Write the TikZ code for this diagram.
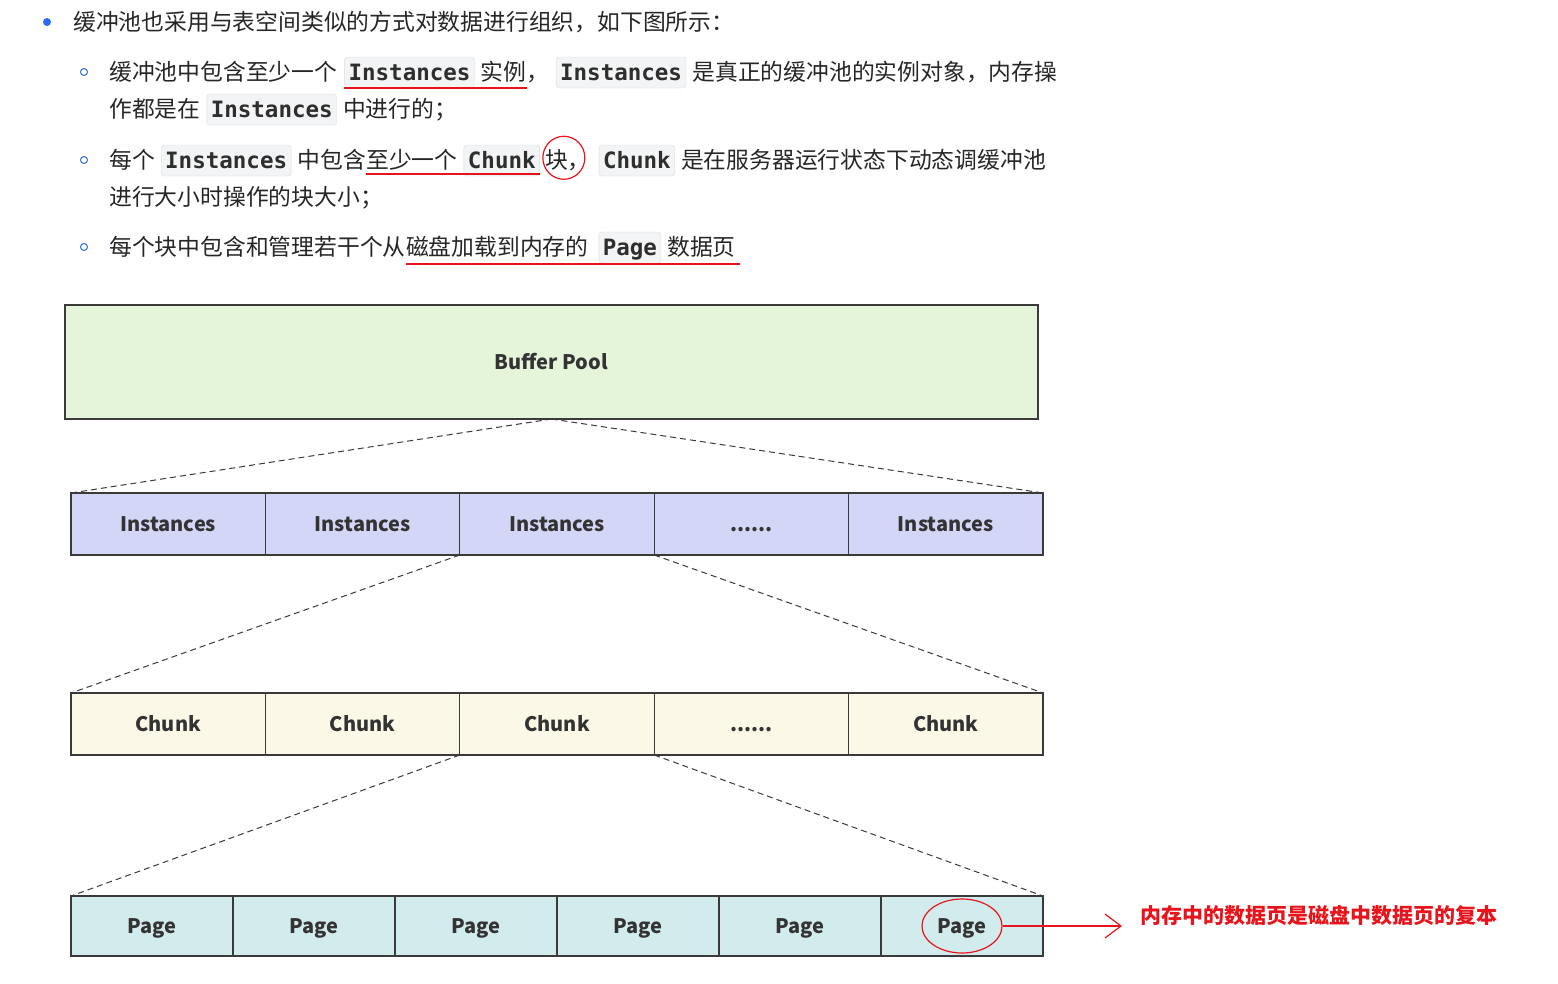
\documentclass[tikz,border=0pt]{standalone}
\usepackage{fontspec}
\usepackage{xcolor}
\usepackage{tikz}
\usetikzlibrary{positioning, shapes.geometric, arrows.meta}
\setmainfont{Noto Sans CJK SC}
\setmonofont{DejaVu Sans Mono}
\definecolor{poolColor}{HTML}{E4F5D9}
\definecolor{instColor}{HTML}{D3D6F7}
\definecolor{chunkColor}{HTML}{FBF8E8}
\definecolor{pageColor}{HTML}{D2EBEC}
\definecolor{edgeColor}{HTML}{3A3A3A}
\definecolor{bulletColor}{HTML}{2B6CF0}
\definecolor{markColor}{HTML}{E8141B}
\definecolor{codeFill}{HTML}{F3F4F5}
\definecolor{codeEdge}{HTML}{D9DCE0}
\newcommand{\moredots}{......}

\begin{document}
\begin{tikzpicture}[x=1pt, y=-1pt,
    txt/.style={inner sep=0pt, font=\fontsize{22.8}{26}\selectfont, text=black!85},
    codebox/.style={fill=codeFill, draw=codeEdge, rounded corners=3pt, inner xsep=4pt, inner ysep=4pt,
        text height=19pt, text depth=4pt, font=\ttfamily\bfseries\fontsize{22.5}{26}\selectfont, text=black!82},
    dotbullet/.style={circle, fill=bulletColor, inner sep=0pt, minimum size=8pt},
    ringbullet/.style={circle, draw=bulletColor, line width=1pt, inner sep=0pt, minimum size=7pt},
    layer/.style={draw=edgeColor, line width=1.3pt, outer sep=0pt, inner sep=0pt,
        text height=15pt, text depth=0pt, font=\bfseries\fontsize{20}{24}\selectfont, text=black!80},
    link/.style={edgeColor, line width=1pt, dash pattern=on 6pt off 4pt},
    markline/.style={markColor, line width=1.2pt},
    handmark/.style={draw=markColor, line width=1.2pt, ellipse, inner sep=0pt}]
    \useasboundingbox (0,0) rectangle (1558,983);

    % text above the picture
    \node[dotbullet] (b1) at (47,22) {};
    \node[txt, anchor=base west] (t1) at (73,30) {缓冲池也采用与表空间类似的方式对数据进行组织，如下图所示：};

    \node[ringbullet] (b2) at (84,72) {};
    \node[txt, anchor=base west] (t2a) at (109,80) {缓冲池中包含至少一个};
    \node[codebox, base right=7pt of t2a] (t2b) {Instances};
    \node[txt, base right=6pt of t2b] (t2c) {实例};
    \node[txt, base right=0pt of t2c] (t2d) {，};
    \node[codebox, base right=6pt of t2d] (t2e) {Instances};
    \node[txt, base right=6pt of t2e] (t2f) {是真正的缓冲池的实例对象，内存操};
    \node[txt, anchor=base west] (t3a) at (109,117) {作都是在};
    \node[codebox, base right=6pt of t3a] (t3b) {Instances};
    \node[txt, base right=6pt of t3b] (t3c) {中进行的；};

    \node[ringbullet] (b3) at (84,160) {};
    \node[txt, anchor=base west] (t4a) at (109,168) {每个};
    \node[codebox, base right=6pt of t4a] (t4b) {Instances};
    \node[txt, base right=6pt of t4b] (t4c) {中包含};
    \node[txt, base right=0pt of t4c] (t4d) {至少一个};
    \node[codebox, base right=6pt of t4d] (t4e) {Chunk};
    \node[txt, base right=5pt of t4e] (t4f) {块，};
    \node[codebox, base right=8pt of t4f] (t4g) {Chunk};
    \node[txt, base right=6pt of t4g] (t4h) {是在服务器运行状态下动态调缓冲池};
    \node[txt, anchor=base west] (t5a) at (109,205) {进行大小时操作的块大小；};

    \node[ringbullet] (b4) at (84,247) {};
    \node[txt, anchor=base west] (t6a) at (109,255) {每个块中包含和管理若干个从};
    \node[txt, base right=0pt of t6a] (t6b) {磁盘加载到内存的};
    \node[codebox, base right=10pt of t6b] (t6c) {Page};
    \node[txt, base right=6pt of t6c] (t6d) {数据页};

    % red marks on the text
    \draw[markline] ([yshift=-8pt]t2b.base west) -- ([yshift=-8pt]t2c.base east);
    \draw[markline] ([yshift=-6pt]t4d.base west) -- ([yshift=-6pt]t4e.base east);
    \draw[markline] ([yshift=-9pt]t6b.base west) -- ([xshift=4pt, yshift=-9pt]t6d.base east);
    \node[handmark, minimum width=42pt, minimum height=43pt] (m1) at ([xshift=-4pt, yshift=2pt]t4f.center) {};

    % layers
    \node[layer, fill=poolColor, minimum width=973pt, minimum height=114pt] (bp) at (551.5,362) {Buffer Pool};
    \foreach \i/\t in {1/Instances, 2/Instances, 3/Instances, 4/\moredots, 5/Instances}
        \node[layer, fill=instColor, minimum width=194.4pt, minimum height=62pt] (ins\i) at ({71+194.4*(\i-0.5)},524) {\t};
    \foreach \i/\t in {1/Chunk, 2/Chunk, 3/Chunk, 4/\moredots, 5/Chunk}
        \node[layer, fill=chunkColor, minimum width=194.4pt, minimum height=62pt] (ch\i) at ({71+194.4*(\i-0.5)},724) {\t};
    \foreach \i in {1,...,6}
        \node[layer, fill=pageColor, minimum width=162pt, minimum height=60pt] (pg\i) at ({71+162*(\i-0.5)},926) {Page};

    \draw[link] (bp.south) -- (ins1.north west);
    \draw[link] (bp.south) -- (ins5.north east);
    \draw[link] (ins3.south west) -- (ch1.north west);
    \draw[link] (ins4.south west) -- (ch5.north east);
    \draw[link] (ch3.south west) -- (pg1.north west);
    \draw[link] (ch4.south west) -- (pg6.north east);

    % note on the last page
    \node[handmark, minimum width=80pt, minimum height=54pt] (m2) at (pg6) {};
    \node[anchor=west, inner sep=0pt, text=markColor, font=\bfseries\fontsize{21}{24}\selectfont] (note) at (1140,915) {内存中的数据页是磁盘中数据页的复本};
    \draw[markline, -{Straight Barb[length=16pt, width=24pt]}] (m2.east) -- ([xshift=-18pt]m2.east -| note.west);
\end{tikzpicture}
\end{document}
